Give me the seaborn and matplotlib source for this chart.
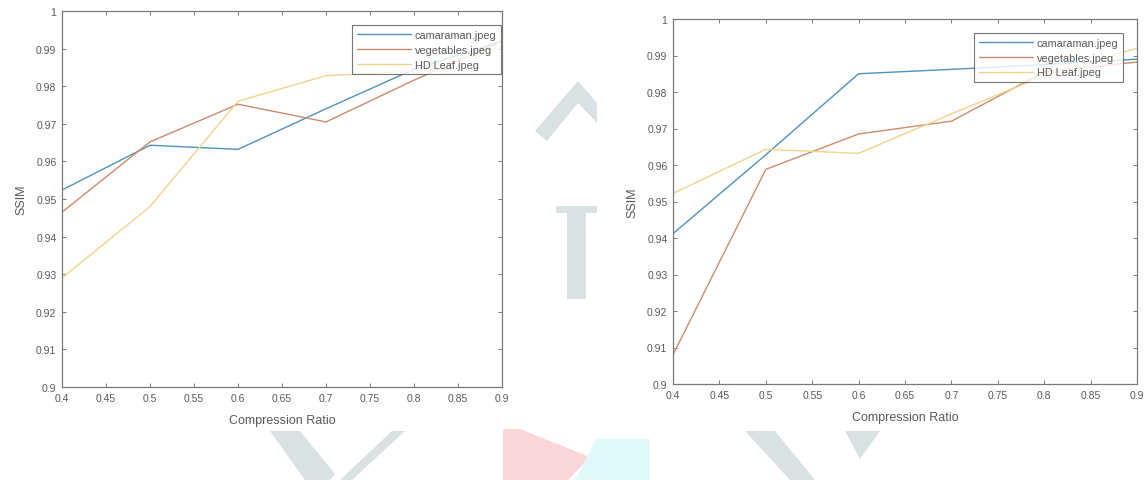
import numpy as np
import pandas as pd
import matplotlib
matplotlib.use("Agg")
import matplotlib.pyplot as plt
from matplotlib.patches import Polygon
import seaborn as sns

# ---- data -------------------------------------------------------------
ratio = [0.4, 0.5, 0.6, 0.7, 0.8, 0.9]
series_names = ["camaraman.jpeg", "vegetables.jpeg", "HD Leaf.jpeg"]

# left panel
left_camaraman = [0.9524, 0.9643, 0.9632, 0.9740, 0.9845, 0.9920]
left_vegetables = [0.9465, 0.9652, 0.9752, 0.9705, 0.9816, 0.9920]
left_hdleaf = [0.9290, 0.9480, 0.9760, 0.9828, 0.9840, 0.9905]

# right panel
right_camaraman = [0.9412, 0.9628, 0.9850, 0.9862, 0.9875, 0.9890]
right_vegetables = [0.9080, 0.9588, 0.9685, 0.9720, 0.9855, 0.9882]
right_hdleaf = [0.9522, 0.9643, 0.9632, 0.9740, 0.9845, 0.9920]

xticks = [0.4, 0.45, 0.5, 0.55, 0.6, 0.65, 0.7, 0.75, 0.8, 0.85, 0.9]
xtick_labels = ["0.4", "0.45", "0.5", "0.55", "0.6", "0.65", "0.7", "0.75", "0.8", "0.85", "0.9"]
yticks = [0.9, 0.91, 0.92, 0.93, 0.94, 0.95, 0.96, 0.97, 0.98, 0.99, 1.0]
ytick_labels = ["0.9", "0.91", "0.92", "0.93", "0.94", "0.95", "0.96", "0.97", "0.98", "0.99", "1"]

palette = ["#4f93c0", "#cf8a6c", "#f0d48c"]


def long_frame(values):
    rows = []
    for name, vals in zip(series_names, values):
        for x, y in zip(ratio, vals):
            rows.append({"Compression Ratio": x, "SSIM": y, "image": name})
    return pd.DataFrame(rows)


sns.set_theme(style="white")
plt.rcParams["font.family"] = ["Liberation Sans", "DejaVu Sans"]

W, H = 1147, 481
fig = plt.figure(figsize=(W / 100, H / 100), dpi=100)
fig.patch.set_facecolor("white")


def px_poly(points, color):
    pts = [(x / W, 1 - y / H) for x, y in points]
    fig.patches.append(Polygon(pts, closed=True, transform=fig.transFigure,
                               facecolor=color, edgecolor="none", zorder=0))


# faint background emblem
grey = "#d9e1e5"
px_poly([(535, 132), (578, 82), (597, 104), (597, 124), (578, 104), (547, 142)], grey)
px_poly([(556, 207), (597, 207), (597, 214), (586, 214), (586, 300), (567, 300), (567, 214), (556, 214)], grey)
px_poly([(503, 430), (520, 430), (590, 458), (568, 481), (503, 481)], "#fad6d8")
px_poly([(596, 440), (650, 440), (650, 481), (575, 481)], "#e1f8f9")
px_poly([(270, 432), (300, 432), (335, 475), (330, 481), (305, 481)], grey)
px_poly([(392, 432), (405, 432), (352, 481), (340, 481)], grey)
px_poly([(745, 432), (775, 432), (815, 481), (790, 481)], grey)
px_poly([(845, 432), (880, 432), (860, 460)], grey)

axes_boxes = [
    [62 / W, 1 - 388 / H, 440 / W, 376 / H],
    [673 / W, 1 - 385 / H, 464 / W, 365 / H],
]
panels = [
    (long_frame([left_camaraman, left_vegetables, left_hdleaf]), (0.998, 0.963)),
    (long_frame([right_camaraman, right_vegetables, right_hdleaf]), (0.970, 0.962)),
]

frame_col = "#7a7a7a"
text_col = "#5a5a5a"

for box, (df, leg_anchor) in zip(axes_boxes, panels):
    ax = fig.add_axes(box)
    ax.set_facecolor("white")
    ax.set_zorder(2)
    sns.lineplot(data=df, x="Compression Ratio", y="SSIM", hue="image",
                 palette=palette, linewidth=1.0, ax=ax, legend=True)
    ax.set_xlim(0.4, 0.9)
    ax.set_ylim(0.9, 1.0)
    ax.set_xticks(xticks)
    ax.set_xticklabels(xtick_labels)
    ax.set_yticks(yticks)
    ax.set_yticklabels(ytick_labels)
    ax.tick_params(direction="in", length=3, width=0.7, colors=frame_col,
                   labelcolor=text_col, labelsize=7.5, top=True, right=True,
                   bottom=True, left=True, pad=4)
    for s in ax.spines.values():
        s.set_visible(True)
        s.set_color(frame_col)
        s.set_linewidth(0.9)
    ax.set_xlabel("Compression Ratio", fontsize=9, color=text_col, labelpad=8)
    ax.set_ylabel("SSIM", fontsize=9, color=text_col, labelpad=6)
    leg = ax.legend(loc="upper right", bbox_to_anchor=leg_anchor, fontsize=7.8,
                    frameon=True, fancybox=False, handlelength=5.0,
                    handletextpad=0.3, borderpad=0.45, labelspacing=0.45,
                    borderaxespad=0.0)
    leg.get_frame().set_edgecolor("#555555")
    leg.get_frame().set_linewidth(0.8)
    for t in leg.get_texts():
        t.set_color(text_col)

fig.savefig("out.png", dpi=100)
